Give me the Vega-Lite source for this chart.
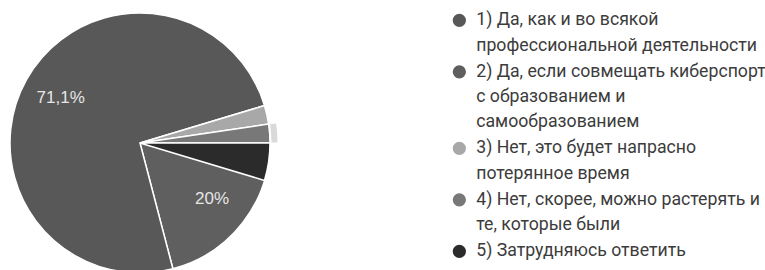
{
  "$schema": "https://vega.github.io/schema/vega-lite/v6.json",
  "width": 280,
  "height": 286,
  "padding": 0,
  "autosize": {"type": "pad"},
  "background": "white",
  "config": {
    "view": {"stroke": null},
    "style": {"guide-label": {"lineHeight": 25.2}},
    "locale": {"number": {"decimal": ",", "thousands": "\u00a0", "grouping": [3], "currency": ["", " ₽"]}}
  },
  "data": {
    "values": [
      {"label": "2) Да, если совмещать киберспорт\nс образованием и\nсамообразованием", "n": 9},
      {"label": "1) Да, как и во всякой\nпрофессиональной деятельности", "n": 32},
      {"label": "3) Нет, это будет напрасно\nпотерянное время", "n": 1},
      {"label": "4) Нет, скорее, можно растерять и\nте, которые были", "n": 1},
      {"label": "5) Затрудняюсь ответить", "n": 2}
    ]
  },
  "transform": [
    {"window": [{"op": "row_number", "as": "idx"}]},
    {"joinaggregate": [{"op": "sum", "field": "n", "as": "total"}]},
    {"calculate": "datum.n / datum.total", "as": "frac"},
    {"stack": "n", "groupby": [], "sort": [{"field": "idx", "order": "ascending"}], "as": ["t0", "t1"]},
    {"calculate": "(datum.t0 + datum.t1) / 2", "as": "tmid"}
  ],
  "layer": [
    {
      "mark": {"type": "arc", "radius": 130, "stroke": "white", "strokeWidth": 1.5},
      "encoding": {
        "theta": {"field": "t0", "type": "quantitative", "scale": {"zero": true, "nice": false, "range": [1.5708, 7.854]}},
        "theta2": {"field": "t1"},
        "color": {
          "field": "label",
          "type": "nominal",
          "scale": {"range": ["#585858", "#5f5f5f", "#a8a8a8", "#787878", "#2b2b2b"]},
          "legend": {
            "orient": "none",
            "legendX": 450.5,
            "legendY": 11.5,
            "title": null,
            "padding": 0,
            "symbolType": "circle",
            "symbolSize": 177,
            "symbolStrokeWidth": 0,
            "labelFontSize": 17.7,
            "labelFont": "Roboto",
            "labelColor": "#3c3c3c",
            "labelLimit": 0,
            "labelOffset": 8,
            "labelBaseline": "middle",
            "rowPadding": 7.5,
            "labelExpr": "split(datum.label, '\\n')",
            "encode": {"labels": {"update": {"lineHeight": {"value": 25.2}}}}
          }
        }
      }
    },
    {
      "transform": [{"filter": "datum.idx == 4"}],
      "mark": {"type": "arc", "radius": 138, "radius2": 131, "color": "#d9d9d9", "stroke": "white", "strokeWidth": 1},
      "encoding": {
        "theta": {"field": "t0", "type": "quantitative"},
        "theta2": {"field": "t1"}
      }
    },
    {
      "transform": [{"filter": "datum.frac > 0.05"}],
      "mark": {"type": "text", "radius": 91, "fontSize": 17, "font": "Liberation Sans", "color": "#e6e6e6"},
      "encoding": {
        "theta": {"field": "tmid", "type": "quantitative"},
        "text": {"field": "frac", "type": "quantitative", "format": ".1~%"}
      }
    }
  ]
}
